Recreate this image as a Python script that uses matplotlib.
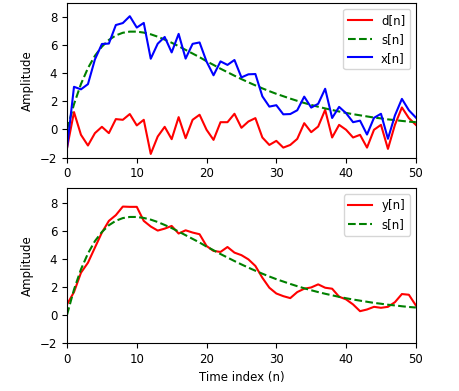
import numpy as np
import matplotlib
matplotlib.use("Agg")
import matplotlib.pyplot as plt

n = np.arange(51)

# clean signal s[n]
s = [0.0, 1.8, 3.24, 4.37, 5.25, 5.9, 6.38, 6.7, 6.89, 6.97,
     6.97, 6.9, 6.78, 6.61, 6.4, 6.18, 5.93, 5.67, 5.41, 5.15,
     4.86, 4.6, 4.33, 4.08, 3.83, 3.59, 3.36, 3.14, 2.93, 2.73,
     2.54, 2.37, 2.2, 2.04, 1.89, 1.75, 1.62, 1.5, 1.39, 1.28,
     1.18, 1.09, 1.01, 0.93, 0.85, 0.79, 0.72, 0.67, 0.61, 0.56,
     0.52]

# noise d[n]
d = [-1.33, 1.24, -0.38, -1.14, -0.26, 0.19, -0.26, 0.74, 0.69, 1.1,
     0.29, 0.69, -1.74, -0.5, 0.19, -0.69, 0.88, -0.62, 0.69, 1.05,
     -0.02, -0.74, 0.52, 0.52, 1.12, 0.12, 0.57, 0.81, -0.57, -1.1,
     -0.81, -1.29, -1.1, -0.67, 0.45, -0.19, 0.21, 1.4, -0.57, 0.33,
     -0.02, -0.57, -0.38, -1.29, -0.02, 0.33, -1.38, 0.33, 1.57, 0.81,
     0.33]

# noisy signal x[n] = s[n] + d[n]
x = np.array(s) + np.array(d)

# smoothed output y[n]
y = [0.74, 1.62, 3.0, 3.71, 4.79, 5.86, 6.69, 7.1, 7.71, 7.69,
     7.69, 6.69, 6.29, 6.0, 6.14, 6.33, 5.79, 6.02, 5.86, 5.74,
     4.9, 4.55, 4.48, 4.83, 4.43, 4.25, 3.95, 3.48, 2.64, 1.93,
     1.52, 1.33, 1.19, 1.62, 1.86, 1.95, 2.17, 1.93, 1.86, 1.29,
     1.1, 0.74, 0.26, 0.38, 0.57, 0.5, 0.57, 0.9, 1.48, 1.43,
     0.67]

plt.rcParams["font.size"] = 8.5

fig, (ax1, ax2) = plt.subplots(2, 1, figsize=(4.59, 3.91), dpi=100)
fig.subplots_adjust(left=0.146, right=0.906, top=0.992, bottom=0.123, hspace=0.2)

ax1.plot(n, d, "r", label="d[n]")
ax1.plot(n, s, "g--", label="s[n]")
ax1.plot(n, x, "b", label="x[n]")
ax1.set_xlim(0, 50)
ax1.set_ylim(-2, 9)
ax1.set_ylabel("Amplitude")
ax1.legend(loc="upper right")

ax2.plot(n, y, "r", label="y[n]")
ax2.plot(n, s, "g--", label="s[n]")
ax2.set_xlim(0, 50)
ax2.set_ylim(-2, 9)
ax2.set_ylabel("Amplitude")
ax2.set_xlabel("Time index (n)")
ax2.legend(loc="upper right")

fig.savefig("out.png")
